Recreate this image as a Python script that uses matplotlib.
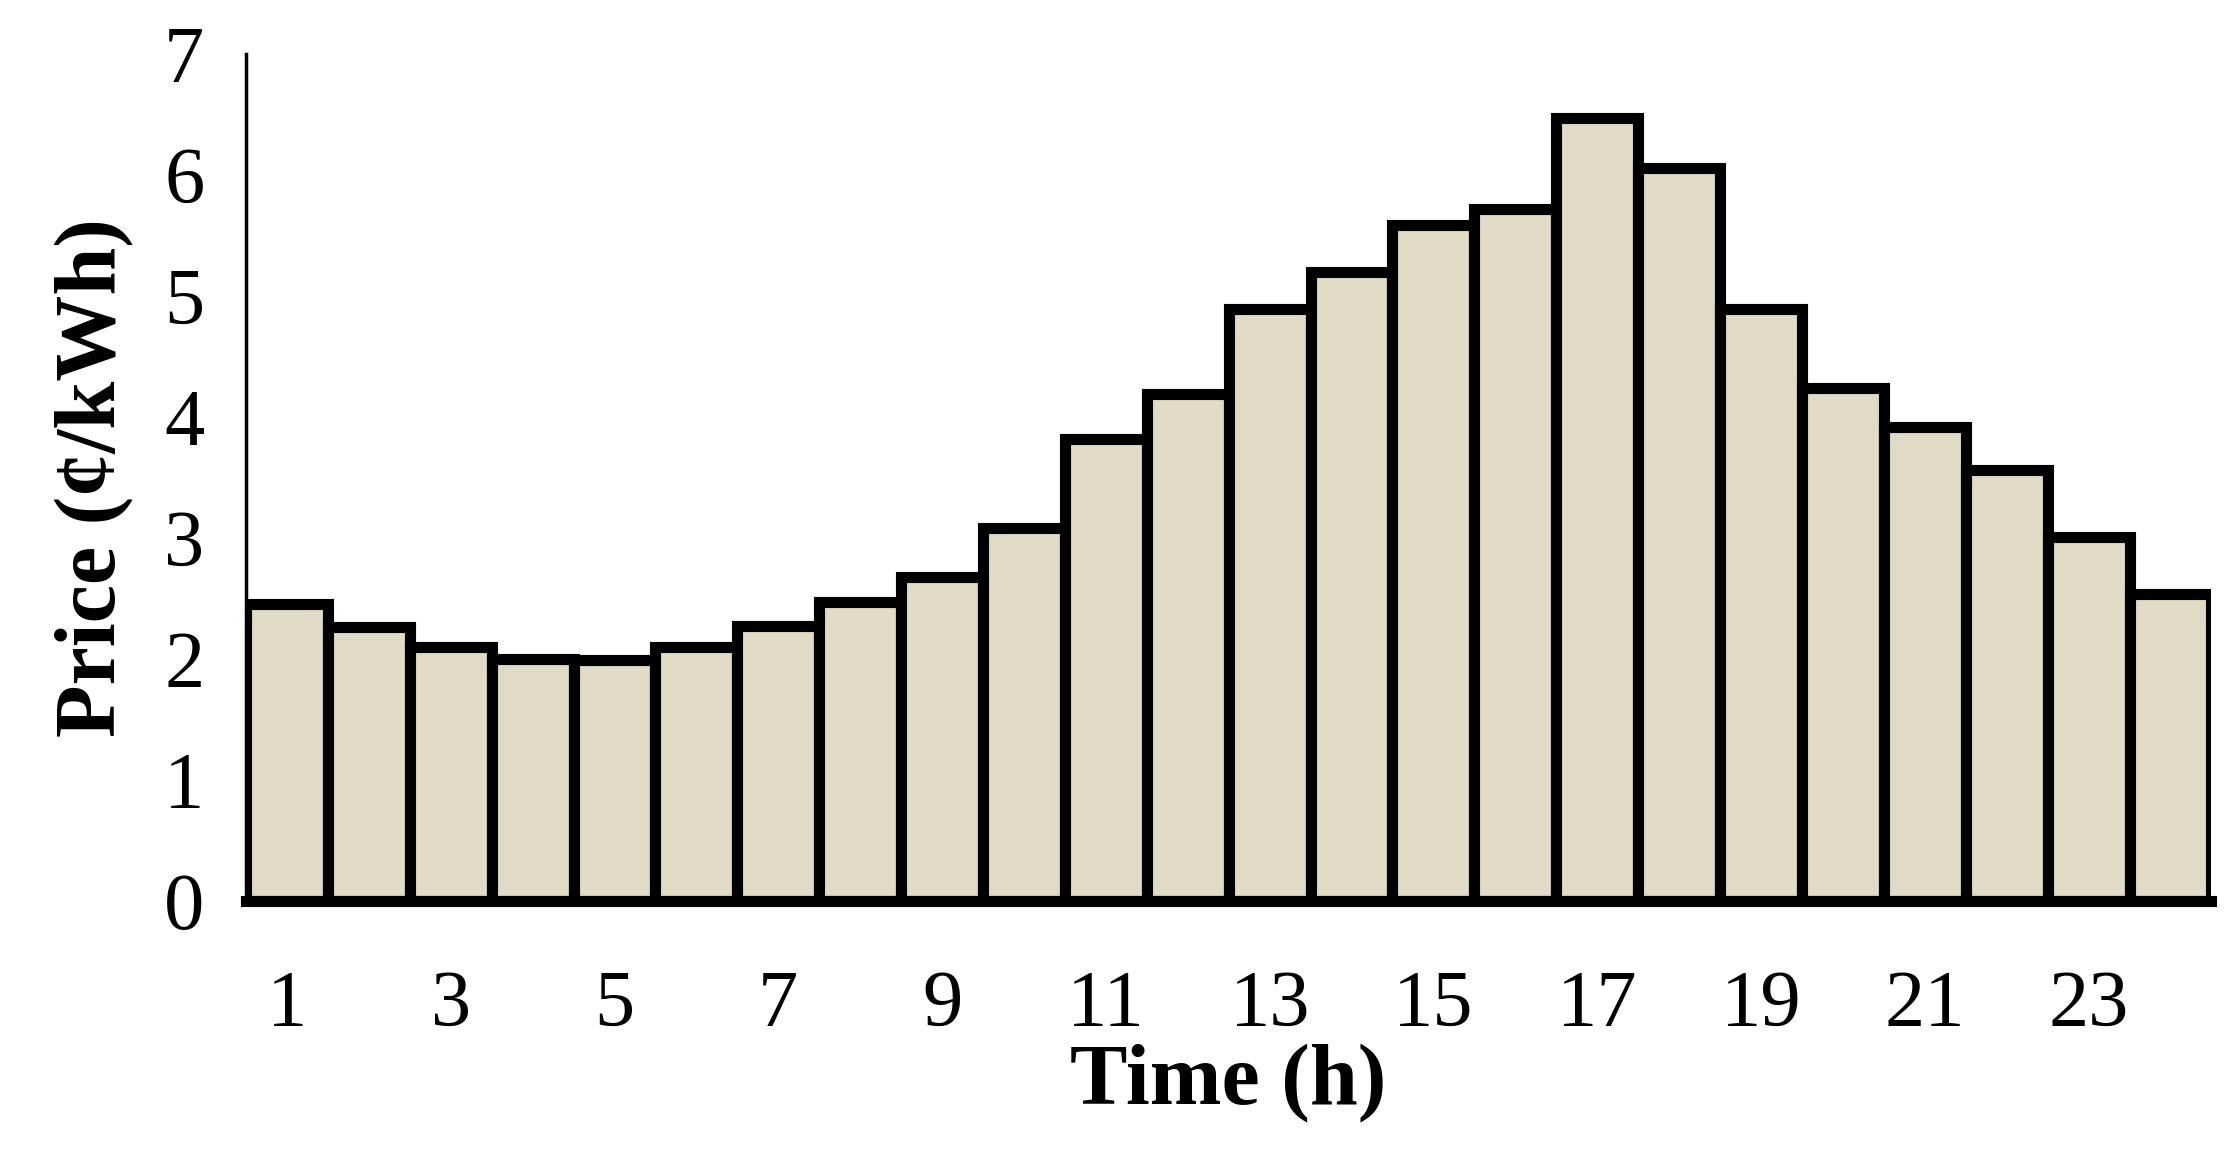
import matplotlib
matplotlib.use("Agg")
import matplotlib.pyplot as plt

hours = list(range(1, 25))
prices = [2.45, 2.26, 2.10, 2.00, 1.99, 2.10, 2.27, 2.47, 2.68, 3.08, 3.82, 4.19,
          4.89, 5.20, 5.59, 5.72, 6.47, 6.06, 4.89, 4.24, 3.92, 3.56, 3.01, 2.54]
xticks = list(range(1, 24, 2))
yticks = list(range(0, 8))

plt.rcParams['font.family'] = ['Liberation Serif', 'DejaVu Serif']
fig = plt.figure(figsize=(22.36, 11.49), dpi=100)
ax = fig.add_axes([0.110, 0.216, 0.879, 0.737])
ax.bar(hours, prices, width=1.0, color='#DFDBC5', edgecolor='black', linewidth=8)
ax.set_xlim(0.5, 24.5)
ax.set_ylim(0, 7)
ax.set_xticks(xticks)
ax.set_yticks(yticks)
ax.tick_params(length=0, labelsize=58, pad=30)
ax.tick_params(axis='x', pad=50)
for s in ['top', 'right']:
    ax.spines[s].set_visible(False)
ax.spines['left'].set_linewidth(2.5)
ax.spines['bottom'].set_linewidth(8)
ax.set_xlabel('Time (h)', fontsize=62, fontweight='bold', labelpad=0)
ax.set_ylabel('Price (¢/kWh)', fontsize=62, fontweight='bold', labelpad=22)
fig.savefig('out.png', dpi=100)
